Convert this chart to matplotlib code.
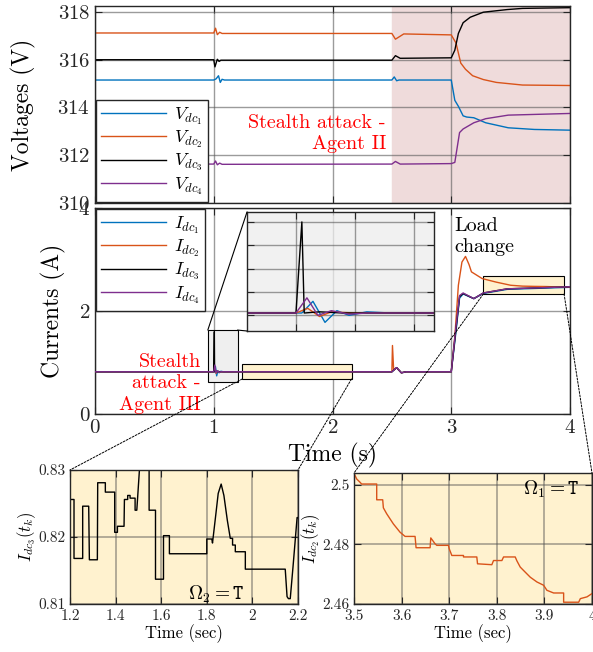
import matplotlib
matplotlib.use('Agg')
import matplotlib.pyplot as plt
from matplotlib.patches import Rectangle, ConnectionPatch

plt.rcParams['font.family'] = 'cmr10'
plt.rcParams['mathtext.fontset'] = 'cm'
plt.rcParams['axes.formatter.use_mathtext'] = True

# --- dc bus voltages (V) ---
t_v1 = [0, 1.0, 1.02, 1.04, 1.055, 1.07, 1.09, 2.5, 2.52, 2.54, 2.56, 3.0, 3.03, 3.06, 3.1, 3.13, 3.19, 3.29, 3.48, 3.7, 4.0]
v1 = [315.15, 315.15, 315.2, 315.33, 315.05, 315.18, 315.15, 315.15, 315.28, 315.12, 315.15, 315.15, 314.3, 314.05, 313.65, 313.6, 313.57, 313.36, 313.15, 313.08, 313.05]
t_v2 = [0, 1.0, 1.015, 1.03, 1.05, 1.07, 2.5, 2.53, 2.6, 3.0, 3.04, 3.08, 3.12, 3.18, 3.27, 3.38, 3.6, 4.0]
v2 = [317.12, 317.12, 317.32, 317.05, 317.15, 317.1, 317.1, 316.86, 317.08, 317.04, 316.7, 315.86, 315.6, 315.33, 315.17, 315.05, 314.94, 314.92]
t_v3 = [0, 1.0, 1.01, 1.03, 1.045, 1.06, 2.5, 2.53, 2.57, 3.0, 3.03, 3.06, 3.1, 3.16, 3.27, 3.47, 3.6, 4.0]
v3 = [316.0, 316.0, 315.7, 316.02, 315.93, 315.98, 315.98, 316.17, 316.06, 316.08, 316.4, 317.1, 317.55, 317.78, 317.99, 318.1, 318.15, 318.18]
t_v4 = [0, 1.0, 1.015, 1.03, 1.05, 1.07, 2.5, 2.53, 2.57, 3.0, 3.03, 3.07, 3.1, 3.19, 3.29, 3.48, 4.0]
v4 = [311.63, 311.63, 311.76, 311.6, 311.67, 311.62, 311.63, 311.74, 311.63, 311.65, 311.7, 312.95, 313.1, 313.36, 313.53, 313.68, 313.75]

# --- dc currents (A) ---
t_i1 = [0, 1.0, 1.005, 1.0144, 1.0246, 1.0347, 1.045, 1.06, 1.08, 2.5, 2.54, 2.58, 2.62, 3.0, 3.04, 3.07, 3.1, 3.19, 3.27, 3.47, 4.0]
i1 = [0.82, 0.82, 0.82, 0.92, 0.74, 0.84, 0.80, 0.83, 0.82, 0.82, 0.9, 0.80, 0.82, 0.82, 1.6, 2.25, 2.33, 2.24, 2.34, 2.42, 2.46]
t_i2 = [0, 1.0, 1.01, 1.02, 1.03, 1.05, 2.5, 2.505, 2.515, 2.54, 2.58, 2.62, 3.0, 3.03, 3.06, 3.09, 3.12, 3.15, 3.17, 3.26, 3.38, 3.5, 3.6, 3.7, 3.8, 3.9, 4.0]
i2 = [0.82, 0.82, 0.86, 0.79, 0.83, 0.82, 0.82, 1.33, 0.85, 0.9, 0.80, 0.82, 0.82, 1.5, 2.5, 2.95, 3.06, 2.9, 2.76, 2.63, 2.56, 2.50, 2.483, 2.478, 2.475, 2.467, 2.463]
t_i3 = [0, 1.0, 1.005, 1.007, 1.02, 1.04, 2.5, 2.54, 2.58, 2.62, 3.0, 3.04, 3.07, 3.1, 3.19, 3.27, 3.47, 4.0]
i3 = [0.82, 0.82, 1.60, 0.82, 0.83, 0.82, 0.82, 0.9, 0.80, 0.82, 0.82, 1.65, 2.28, 2.34, 2.24, 2.35, 2.43, 2.47]
t_i4 = [0, 1.0, 1.0093, 1.0186, 1.03, 1.045, 1.06, 2.5, 2.54, 2.58, 2.62, 3.0, 3.04, 3.07, 3.1, 3.19, 3.27, 3.47, 4.0]
i4 = [0.82, 0.82, 0.95, 0.80, 0.84, 0.81, 0.82, 0.82, 0.9, 0.80, 0.82, 0.82, 1.7, 2.3, 2.35, 2.24, 2.35, 2.43, 2.47]

# --- zoom: I_dc3 between 1.2 and 2.2 s ---
t_z3 = [1.2, 1.2176, 1.2176, 1.2556, 1.2556, 1.282, 1.285, 1.32, 1.3215, 1.355, 1.355, 1.396, 1.396, 1.408, 1.408,
        1.437, 1.4387, 1.453, 1.453, 1.4635, 1.4635, 1.4855, 1.4855, 1.493, 1.5045, 1.547, 1.547, 1.575, 1.575,
        1.61, 1.61, 1.636, 1.636, 1.80, 1.80, 1.822, 1.825, 1.84, 1.85, 1.863, 1.875, 1.89, 1.903, 1.913, 1.913,
        1.925, 1.925, 1.969, 1.969, 2.144, 2.152, 2.158, 2.166, 2.178, 2.188, 2.196, 2.2]
z3 = [0.8256, 0.8256, 0.8168, 0.8168, 0.8246, 0.8246, 0.8166, 0.8166, 0.8281, 0.8281, 0.8267, 0.8267, 0.8207, 0.8207, 0.8216,
      0.8216, 0.8256, 0.8256, 0.8262, 0.8262, 0.8258, 0.8258, 0.8240, 0.8240, 0.830, 0.830, 0.824, 0.824, 0.8137,
      0.8137, 0.8202, 0.8202, 0.8175, 0.8175, 0.8197, 0.8197, 0.8191, 0.8235, 0.8265, 0.8279, 0.8262, 0.8225, 0.8198, 0.8198, 0.8188,
      0.8188, 0.8178, 0.8178, 0.8152, 0.8152, 0.8111, 0.8108, 0.8108, 0.8155, 0.8196, 0.8229, 0.8229]

# --- zoom: I_dc2 between 3.5 and 4 s ---
t_z2 = [3.5, 3.5056, 3.5126, 3.516, 3.5477, 3.5477, 3.5603, 3.5617, 3.5687, 3.5827, 3.5968, 3.6073, 3.6283, 3.6304,
        3.6599, 3.6613, 3.6704, 3.6739, 3.6985, 3.6999, 3.7055, 3.73, 3.73, 3.758, 3.7595, 3.7896, 3.7931, 3.8107,
        3.8142, 3.8387, 3.8422, 3.8492, 3.8597, 3.8703, 3.8843, 3.8983, 3.9053, 3.9194, 3.9404, 3.9404, 3.972,
        3.9755, 3.9895, 4.0]
z2 = [2.5039, 2.502, 2.5009, 2.5003, 2.5003, 2.495, 2.495, 2.4923, 2.4903, 2.4869, 2.4841, 2.4827, 2.4827, 2.4789,
      2.4789, 2.4822, 2.4802, 2.4797, 2.4797, 2.4786, 2.4763, 2.4763, 2.4758, 2.4758, 2.4735, 2.4732, 2.4746, 2.4746,
      2.4758, 2.4758, 2.4745, 2.4724, 2.4707, 2.469, 2.4674, 2.4663, 2.4646, 2.4637, 2.4637, 2.4606, 2.4606,
      2.4618, 2.4624, 2.4635]

colors = [(0, 0.447, 0.741), (0.85, 0.325, 0.098), 'k', (0.494, 0.184, 0.556)]
grid_kw = dict(color='0.35', alpha=0.6, linewidth=1.0)

fig = plt.figure(figsize=(5.93, 6.52), dpi=100)
W, H = 593., 652.

def px_axes(x0, y0, x1, y1):
    return fig.add_axes([x0 / W, 1 - y1 / H, (x1 - x0) / W, (y1 - y0) / H])

def style(ax, size):
    ax.tick_params(direction='in', top=True, right=True, labelsize=size, length=5, colors='0.15')
    for s in ax.spines.values():
        s.set_color('0.15')
        s.set_linewidth(1.0)

leg_kw = dict(fontsize=13, handlelength=3.6, handletextpad=0.4, fancybox=False, edgecolor='0.15',
              framealpha=1, borderaxespad=0.05, labelspacing=0.12, borderpad=0.3)

# voltages
ax1 = px_axes(95, 6, 570, 203)
ax1.axvspan(2.5, 4, color='#efdbdb', zorder=0)
for t, v, c, k in zip([t_v1, t_v2, t_v3, t_v4], [v1, v2, v3, v4], colors, range(1, 5)):
    ax1.plot(t, v, color=c, lw=1.0, label=r'$V_{dc_%d}$' % k)
ax1.set_xlim(0, 4)
ax1.set_ylim(310, 318.25)
ax1.set_yticks([310, 312, 314, 316, 318])
ax1.set_xticks([0, 1, 2, 3, 4])
ax1.set_xticklabels([])
ax1.grid(True, **grid_kw)
ax1.set_axisbelow(True)
style(ax1, 15)
ax1.set_ylabel('Voltages (V)', fontsize=17)
ax1.yaxis.set_label_coords(-0.124, 0.5)
ax1.legend(loc='lower left', **leg_kw)

# currents
ax2 = px_axes(95, 208, 570, 414)
for t, v, c, k in zip([t_i1, t_i2, t_i3, t_i4], [i1, i2, i3, i4], colors, range(1, 5)):
    ax2.plot(t, v, color=c, lw=1.0, label=r'$I_{dc_%d}$' % k, zorder=3)
ax2.set_xlim(0, 4)
ax2.set_ylim(0, 4)
ax2.set_yticks([0, 2, 4])
ax2.set_xticks([0, 1, 2, 3, 4])
ax2.grid(True, **grid_kw)
ax2.set_axisbelow(True)
style(ax2, 15)
ax2.set_ylabel('Currents (A)', fontsize=17)
ax2.yaxis.set_label_coords(-0.06, 0.5)
ax2.set_xlabel('Time (s)', fontsize=17, labelpad=4)
ax2.legend(loc='upper left', **leg_kw)

# highlight boxes on the current plot
box_gray = (0.95, 0.63, 0.25, 1.0)
box_y1 = (1.24, 0.68, 0.92, 0.30)
box_y2 = (3.27, 2.33, 0.68, 0.34)
ax2.add_patch(Rectangle(box_gray[:2], box_gray[2], box_gray[3], facecolor='#efefef', edgecolor='k', lw=0.8, zorder=2))
for b in (box_y1, box_y2):
    ax2.add_patch(Rectangle(b[:2], b[2], b[3], facecolor='#fff2cf', edgecolor='k', lw=0.8, zorder=2))

ax2.text(0.89, 0.6, 'Stealth\nattack -\nAgent III', color='red', fontsize=14.5, ha='right', va='center',
         linespacing=1.25, zorder=4)
ax1.text(2.45, 312.9, 'Stealth attack -\nAgent II', color='red', fontsize=14.5, ha='right', va='center',
         linespacing=1.2)
ax2.text(3.03, 3.45, 'Load\nchange', color='k', fontsize=14.5, ha='left', va='center', linespacing=1.25)

# gray inset zoom of the t=1 s transient
axg = px_axes(247, 212, 434, 331)
axg.set_facecolor((0.93, 0.93, 0.93, 0.75))
for t, v, c in zip([t_i1, t_i2, t_i3, t_i4], [i1, i2, i3, i4], colors):
    axg.plot(t, v, color=c, lw=1.0)
axg.set_xlim(0.9585, 1.117)
axg.set_ylim(0.666, 1.685)
axg.set_xticks([1.0, 1.05, 1.1])
axg.set_yticks([0.8, 1.0, 1.2, 1.4, 1.6])
axg.set_xticklabels([])
axg.set_yticklabels([])
axg.grid(True, **grid_kw)
style(axg, 8)
for xyA, xyB in [((0.95, 1.63), (0, 1)), ((1.2, 1.63), (0, 0))]:
    fig.add_artist(ConnectionPatch(xyA=xyA, coordsA=ax2.transData, xyB=xyB, coordsB=axg.transAxes,
                                   color='k', lw=0.8))

# lower zoom panels
def zoom_panel(ax, t, v, c):
    ax.set_facecolor('#fff2cf')
    ax.plot(t, v, color=c, lw=1.0)
    ax.grid(True, color='0.3', alpha=0.5, lw=1.2)
    style(ax, 11)
    ax.set_xlabel('Time (sec)', fontsize=12, labelpad=1.5)

axL = px_axes(70, 470, 298, 604)
zoom_panel(axL, t_z3, z3, 'k')
axL.set_xlim(1.2, 2.2)
axL.set_ylim(0.81, 0.83)
axL.set_xticks([1.2, 1.4, 1.6, 1.8, 2.0, 2.2])
axL.set_xticklabels(['1.2', '1.4', '1.6', '1.8', '2', '2.2'])
axL.set_yticks([0.81, 0.82, 0.83])
axL.set_yticklabels(['0.81', '0.82', '0.83'])
axL.set_ylabel(r'$I_{dc_3}(t_k)$', fontsize=12, labelpad=0)
axL.text(1.84, 0.8115, r'$\Omega_2 = \mathtt{T}$', fontsize=14, ha='center', va='center')

axR = px_axes(354, 473, 592, 604)
zoom_panel(axR, t_z2, z2, colors[1])
axR.set_xlim(3.5, 4.0)
axR.set_ylim(2.46, 2.504)
axR.set_xticks([3.5, 3.6, 3.7, 3.8, 3.9, 4.0])
axR.set_xticklabels(['3.5', '3.6', '3.7', '3.8', '3.9', '4'])
axR.set_yticks([2.46, 2.48, 2.5])
axR.set_yticklabels(['2.46', '2.48', '2.5'])
axR.set_ylabel(r'$I_{dc_2}(t_k)$', fontsize=12, labelpad=0)
axR.text(3.914, 2.4985, r'$\Omega_1 = \mathtt{T}$', fontsize=14, ha='center', va='center')

for b, axz in [(box_y1, axL), (box_y2, axR)]:
    for xyA, xyB in [((b[0], b[1]), (0, 1)), ((b[0] + b[2], b[1]), (1, 1))]:
        fig.add_artist(ConnectionPatch(xyA=xyA, coordsA=ax2.transData, xyB=xyB, coordsB=axz.transAxes,
                                       color='k', lw=0.7, linestyle=(0, (2, 1.5))))

fig.savefig('out.png', dpi=100)
